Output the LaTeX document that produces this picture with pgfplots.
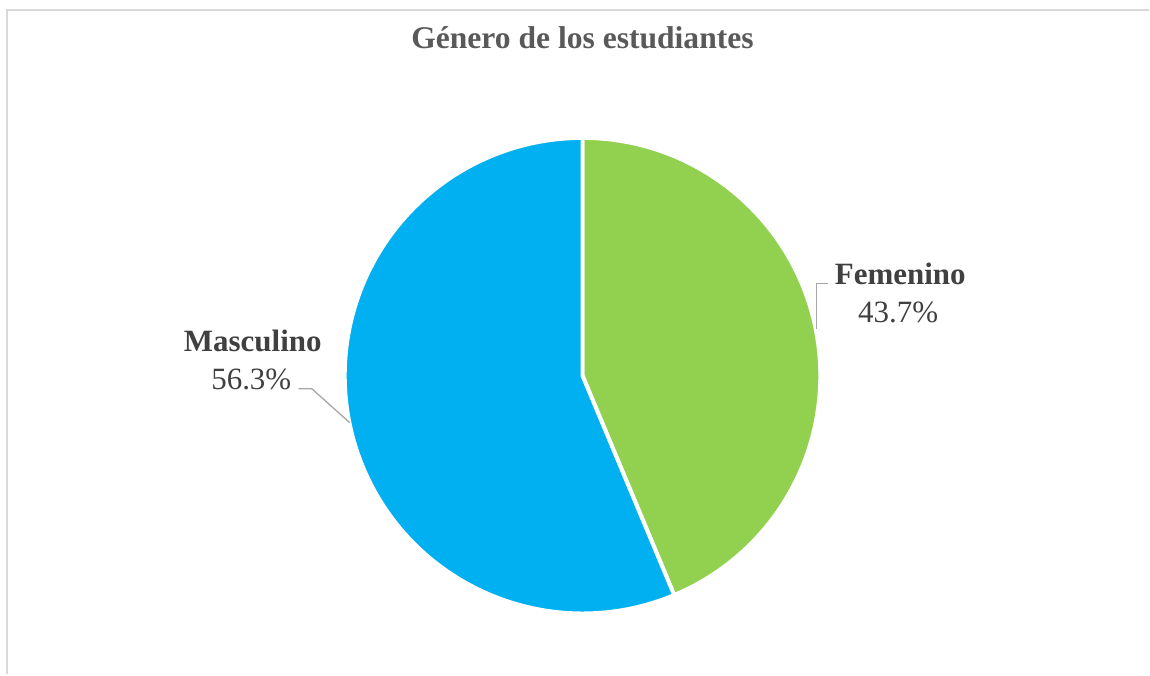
\documentclass[border=0pt]{standalone}
\usepackage{pgfplots}
\pgfplotsset{compat=1.18}
\usepackage{fontspec}
\setmainfont{Liberation Serif}
\definecolor{azul}{HTML}{00B0F0}
\definecolor{verde}{HTML}{92D050}
\definecolor{texto}{HTML}{404040}
\definecolor{titulo}{HTML}{595959}
\definecolor{guia}{HTML}{A6A6A6}
\definecolor{marco}{HTML}{D9D9D9}
% porcentajes
\def\fem{43.7}
\def\masc{56.3}
\begin{document}
\begin{tikzpicture}
\begin{axis}[
  hide axis,
  x=0.5pt, y=0.5pt,
  xmin=0, xmax=1150, ymin=0, ymax=675,
  clip=false,
]
\path (axis cs:0,0) rectangle (axis cs:1150,675);
% marco
\draw[marco, line width=1pt] (axis cs:7,0) -- (axis cs:7,665) -- (axis cs:1150,665);
% sectores
\pgfmathsetmacro{\corte}{90-3.6*\fem}
\fill[verde, draw=white, line width=2pt, line join=round]
  (axis cs:583,299) -- ++(90:119pt) arc[start angle=90, end angle=\corte, radius=119pt] -- cycle;
\fill[azul, draw=white, line width=2pt, line join=round]
  (axis cs:583,299) -- ++(\corte:119pt) arc[start angle=\corte, end angle=-270, radius=119pt] -- cycle;
% guias
\draw[guia, line width=0.65pt] (axis cs:817,346) -- (axis cs:817,391) -- (axis cs:829,391);
\draw[guia, line width=0.65pt] (axis cs:299,286) -- (axis cs:312,286) -- (axis cs:350,252);
% textos
\node[anchor=base, font=\fontsize{15.8}{18}\selectfont\bfseries, text=titulo] at (axis cs:583,626) {Género de los estudiantes};
\node[anchor=base, font=\fontsize{15.5}{18}\selectfont\bfseries, text=texto] at (axis cs:901,390) {Femenino};
\node[anchor=base, font=\fontsize{15.5}{18}\selectfont, text=texto] at (axis cs:899,352) {\fem\%};
\node[anchor=base, font=\fontsize{15.5}{18}\selectfont\bfseries, text=texto] at (axis cs:253,323) {Masculino};
\node[anchor=base, font=\fontsize{15.5}{18}\selectfont, text=texto] at (axis cs:251.5,285) {\masc\%};
\end{axis}
\end{tikzpicture}
\end{document}
